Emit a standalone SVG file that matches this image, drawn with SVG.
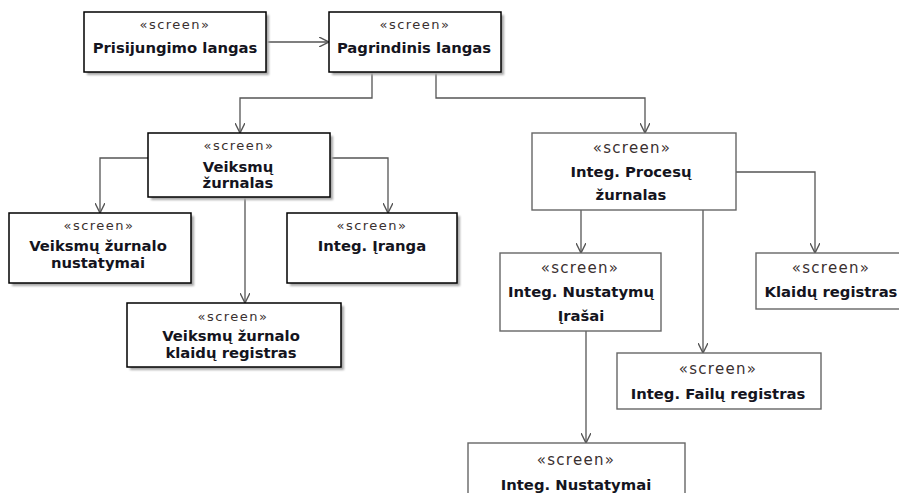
<svg xmlns="http://www.w3.org/2000/svg" width="899" height="493" viewBox="0 0 899 493">
  <style>
    .box { fill: #ffffff; stroke: #000000; stroke-width: 1.5; }
    .box2 { fill: #ffffff; stroke: #666666; stroke-width: 1.4; }
    .shadow { fill: #a8a8a8; filter: url(#soft); }
    .st { font-family: "DejaVu Sans", Verdana, sans-serif; font-size: 13px; letter-spacing: 1.5px; fill: #3a3030; text-anchor: middle; }
    .st2 { font-family: "DejaVu Sans", Verdana, sans-serif; font-size: 15px; letter-spacing: 1.3px; fill: #3a3030; text-anchor: middle; }
    .nm { font-family: "DejaVu Sans", Verdana, sans-serif; font-size: 14.8px; font-weight: bold; fill: #141420; text-anchor: middle; }
    .edge { fill: none; stroke: #555555; stroke-width: 1.3; marker-end: url(#open); }
  </style>
  <defs>
    <filter id="soft" x="-10%" y="-10%" width="120%" height="120%">
      <feGaussianBlur stdDeviation="0.8"/>
    </filter>
    <marker id="open" viewBox="0 0 10 10" refX="10" refY="5" markerWidth="10" markerHeight="10" markerUnits="userSpaceOnUse" orient="auto">
      <path d="M0,0 L10,5 L0,10" fill="none" stroke="#555555" stroke-width="1.4"/>
    </marker>
  </defs>

  <rect width="899" height="493" fill="#ffffff"/>

  <!-- connectors -->
  <g id="connectors">
    <path class="edge" d="M266,42 H329"/>
    <path class="edge" d="M372,72 V98 H240 V133"/>
    <path class="edge" d="M436,72 V98 H645 V133"/>
    <path class="edge" d="M148,158 H100 V213"/>
    <path class="edge" d="M330,158 H388 V213"/>
    <path class="edge" d="M245,197 V303"/>
    <path class="edge" d="M581,210 V253"/>
    <path class="edge" d="M703,210 V353"/>
    <path class="edge" d="M736,172 H815 V253"/>
    <path class="edge" d="M586,331 V443"/>
  </g>

  <g id="prisijungimo-langas">
    <rect class="shadow" x="87" y="15" width="182" height="60"/>
    <rect class="box" x="84" y="12" width="182" height="60"/>
    <text class="st" x="175" y="29">«screen»</text>
    <text class="nm" x="175" y="53">Prisijungimo langas</text>
  </g>

  <g id="pagrindinis-langas">
    <rect class="shadow" x="332" y="15" width="172" height="60"/>
    <rect class="box" x="329" y="12" width="172" height="60"/>
    <text class="st" x="415" y="29">«screen»</text>
    <text class="nm" x="414" y="53">Pagrindinis langas</text>
  </g>

  <g id="veiksmu-zurnalas">
    <rect class="shadow" x="151" y="136" width="182" height="64"/>
    <rect class="box" x="148" y="133" width="182" height="64"/>
    <text class="st" x="239" y="150">«screen»</text>
    <text class="nm" x="238" y="172">Veiksmų</text>
    <text class="nm" x="238" y="188">žurnalas</text>
  </g>

  <g id="veiksmu-zurnalo-nustatymai">
    <rect class="shadow" x="12" y="216" width="182" height="70"/>
    <rect class="box" x="9" y="213" width="182" height="70"/>
    <text class="st" x="99" y="230">«screen»</text>
    <text class="nm" x="98" y="251">Veiksmų žurnalo</text>
    <text class="nm" x="98" y="268">nustatymai</text>
  </g>

  <g id="integ-iranga">
    <rect class="shadow" x="290" y="216" width="170" height="70"/>
    <rect class="box" x="287" y="213" width="170" height="70"/>
    <text class="st" x="372" y="230">«screen»</text>
    <text class="nm" x="372" y="251">Integ. Įranga</text>
  </g>

  <g id="veiksmu-zurnalo-klaidu-registras">
    <rect class="shadow" x="130" y="306" width="214" height="64"/>
    <rect class="box" x="127" y="303" width="214" height="64"/>
    <text class="st" x="233" y="321">«screen»</text>
    <text class="nm" x="231" y="341">Veiksmų žurnalo</text>
    <text class="nm" x="231" y="358">klaidų registras</text>
  </g>

  <g id="integ-procesu-zurnalas">
    <rect class="box2" x="532" y="133" width="204" height="77"/>
    <text class="st2" x="632" y="153">«screen»</text>
    <text class="nm" x="631" y="177">Integ. Procesų</text>
    <text class="nm" x="631" y="200">žurnalas</text>
  </g>

  <g id="integ-nustatymu-irasai">
    <rect class="box2" x="500" y="253" width="161" height="78"/>
    <text class="st2" x="580" y="273">«screen»</text>
    <text class="nm" x="581" y="297">Integ. Nustatymų</text>
    <text class="nm" x="581" y="321">Įrašai</text>
  </g>

  <g id="klaidu-registras">
    <rect class="box2" x="756" y="253" width="160" height="56"/>
    <text class="st2" x="831" y="273">«screen»</text>
    <text class="nm" x="831" y="297">Klaidų registras</text>
  </g>

  <g id="integ-failu-registras">
    <rect class="box2" x="617" y="353" width="204" height="56"/>
    <text class="st2" x="718" y="374">«screen»</text>
    <text class="nm" x="718" y="399">Integ. Failų registras</text>
  </g>

  <g id="integ-nustatymai">
    <rect class="box2" x="468" y="443" width="217" height="60"/>
    <text class="st2" x="576" y="465">«screen»</text>
    <text class="nm" x="576" y="490">Integ. Nustatymai</text>
  </g>
</svg>
